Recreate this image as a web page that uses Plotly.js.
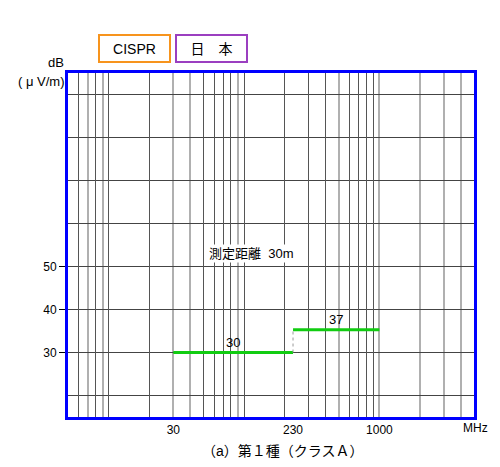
<!DOCTYPE html>
<html>
<head>
<meta charset="utf-8">
<script src="https://cdn.plot.ly/plotly-3.0.1.min.js"></script>
<style>html,body{margin:0;padding:0;background:#fff;}</style>
</head>
<body>
<div id="chart" style="width:500px;height:467px;"></div>
<script>
// ---- data ----
const limitStartMHz = [30, 230];
const limitEndMHz = [230, 1000];
const limitLevel = [30, 35.3];          // level as drawn on the grid
const limitLabels = ['30', '37'];
const xTickVals = [30, 230, 1000];
const xTickText = ['30', '230', '1000'];
const yTickVals = [30, 40, 50];
const yTickText = ['30', '40', '50'];
const yGridExtra = [20, 60, 70, 80, 90];
const xGridDark = [6, 8, 10, 20, 50, 60, 70, 80, 100, 200, 300, 400, 600, 700, 800, 900];
const xGridGray = [7, 9, 30, 40, 90, 500, 1000, 2000, 3000, 4000];
const xRange = [5, 5000];
const yRange = [15, 95];
const legendItems = ['CISPR', '日\u3000本'];
const legendColors = ['#F7941D', '#9B3FC0'];
const noteText = '測定距離\u00a0\u00a030m';
const captionText = '（a）第１種（クラスＡ）';
const unitText = 'MHz';

const FONT = 'Liberation Sans, Arial, Noto Sans CJK JP, sans-serif';
const GREEN = '#11CC11';

// plot area in page pixels
const PL = 68, PR = 474, PT = 73, PB = 417;
const px = x => (x - PL) / (PR - PL);
const py = y => (PB - y) / (PB - PT);

const traces = [];
traces.push({
  x: [limitEndMHz[0], limitStartMHz[1]], y: [limitLevel[0], limitLevel[1]],
  xaxis: 'x2', yaxis: 'y', mode: 'lines',
  line: {color: '#999', width: 1, dash: 'dot'}, hoverinfo: 'skip', showlegend: false
});
for (let i = 0; i < limitLevel.length; i++) {
  traces.push({
    x: [limitStartMHz[i], limitEndMHz[i]], y: [limitLevel[i], limitLevel[i]],
    mode: 'lines', line: {color: GREEN, width: 3}, hoverinfo: 'skip', showlegend: false
  });
}

const txt = (size) => ({family: FONT, size: size, color: '#000'});
const annotations = [];
for (let i = 0; i < limitLevel.length; i++) {
  annotations.push({
    x: (Math.log10(limitStartMHz[i]) + Math.log10(limitEndMHz[i])) / 2,
    y: limitLevel[i], xref: 'x', yref: 'y', text: limitLabels[i], showarrow: false,
    xanchor: 'center', yanchor: 'bottom', yshift: 1, font: txt(13)
  });
}
annotations.push({
  x: px(251.7), y: py(253.5), xref: 'paper', yref: 'paper',
  text: noteText, showarrow: false, bgcolor: '#fff', borderpad: 1,
  xanchor: 'center', yanchor: 'middle', font: txt(13)
});
const boxCenters = [134.5, 211.7];
for (let i = 0; i < legendItems.length; i++) {
  annotations.push({
    x: px(boxCenters[i]), y: py(48.6), xref: 'paper', yref: 'paper',
    text: legendItems[i], showarrow: false, width: 69, height: 25, borderpad: 0,
    bordercolor: legendColors[i], borderwidth: 2, bgcolor: '#fff',
    xanchor: 'center', yanchor: 'middle', font: txt(14)
  });
}
annotations.push({
  x: px(66), y: py(63), xref: 'paper', yref: 'paper', text: 'dB',
  showarrow: false, xanchor: 'right', yanchor: 'middle', font: txt(13)
});
annotations.push({
  x: px(66), y: py(81), xref: 'paper', yref: 'paper', text: '( μ V/m)',
  showarrow: false, xanchor: 'right', yanchor: 'middle', font: txt(13)
});
annotations.push({
  x: px(475), y: py(428), xref: 'paper', yref: 'paper', text: unitText,
  showarrow: false, xanchor: 'center', yanchor: 'middle', font: txt(12)
});
annotations.push({
  x: px(283), y: py(451), xref: 'paper', yref: 'paper', text: captionText,
  showarrow: false, xanchor: 'center', yanchor: 'middle', font: txt(14)
});

const layout = {
  width: 500, height: 467,
  margin: {l: PL, r: 500 - PR, t: PT, b: 467 - PB},
  paper_bgcolor: '#fff', plot_bgcolor: '#fff',
  showlegend: false,
  font: {family: FONT, size: 12, color: '#000'},
  xaxis: {
    type: 'log', range: xRange.map(Math.log10),
    tickmode: 'array', tickvals: xTickVals, ticktext: xTickText,
    showgrid: false, zeroline: false, ticks: '',
    showline: true, mirror: true, linecolor: '#0000FF', linewidth: 3,
    tickfont: txt(12),
    minor: {tickmode: 'array', tickvals: xGridGray, showgrid: true, gridcolor: '#b0b0b0', gridwidth: 2, ticks: ''}
  },
  xaxis2: {
    type: 'log', range: xRange.map(Math.log10), overlaying: 'x', anchor: 'y',
    tickmode: 'array', tickvals: xGridDark, showticklabels: false, ticks: '',
    showgrid: true, gridcolor: '#555555', gridwidth: 1, zeroline: false, showline: false
  },
  yaxis: {
    range: yRange, tickmode: 'array', tickvals: yTickVals, ticktext: yTickText,
    showgrid: true, gridcolor: '#444444', gridwidth: 1, zeroline: false,
    ticks: 'outside', ticklen: 6, tickcolor: '#000', tickwidth: 1,
    showline: true, mirror: true, linecolor: '#0000FF', linewidth: 3,
    tickfont: txt(12),
    minor: {tickmode: 'array', tickvals: yGridExtra, showgrid: true, gridcolor: '#444444', gridwidth: 1, ticks: ''}
  },
  annotations: annotations
};

Plotly.newPlot('chart', traces, layout, {displayModeBar: false, staticPlot: true});
</script>
</body>
</html>
